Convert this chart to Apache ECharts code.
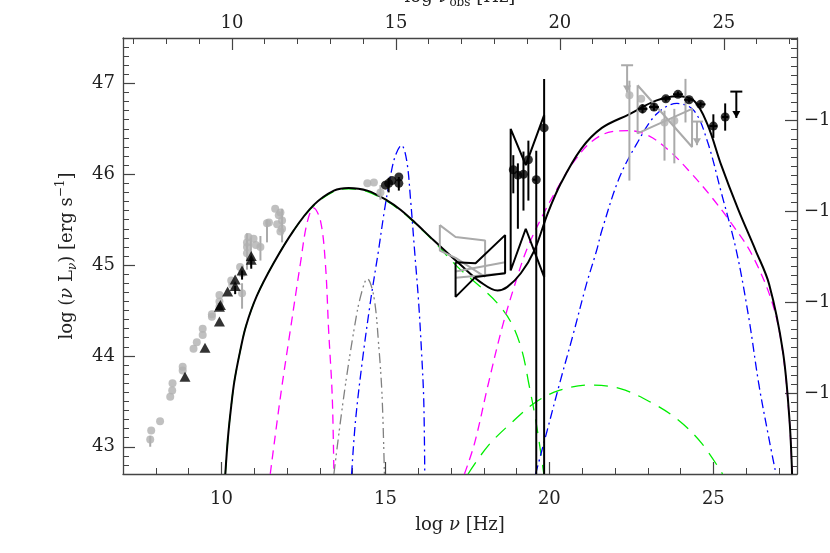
<!DOCTYPE html>
<html>
<head>
<meta charset="utf-8">
<script src="https://cdn.jsdelivr.net/npm/echarts@6/dist/echarts.min.js"></script>
<style>
  html, body { margin: 0; padding: 0; background: #fff; }
  #chart { width: 830px; height: 553px; }
</style>
</head>
<body>
<div id="chart"></div>
<script>
// axis ranges (log nu rest frame, log nuLnu)
const X_MIN = 7, X_MAX = 27.55;
const Y_MIN = 42.7, Y_MAX = 47.5;
const Z_SHIFT = 0.32;        // log(1+z), top axis = observed frame
const FLUX_SHIFT = 56.59;    // right axis offset
const xMajorTicks = [10, 15, 20, 25];
const yMajorTicks = [43, 44, 45, 46, 47];
const yRightTicks = [-13, -12, -11, -10];

// ---- model curves [log nu, log nuLnu] ----
const totalModel = [[10.12,42.7],[10.2,43.1],[10.3,43.45],[10.4,43.73],[10.57,44.05],[10.75,44.33],[11.08,44.66],[11.59,45.02],[12.2,45.38],[12.81,45.66],[13.43,45.82],[13.88,45.85],[14.45,45.82],[15.06,45.71],[15.46,45.61],[15.87,45.48],[16.48,45.27],[17.3,45.0],[17.91,44.81],[18.42,44.72],[18.72,44.76],[19.13,44.91],[19.54,45.16],[19.95,45.57],[20.35,45.9],[20.97,46.28],[21.6,46.51],[22.43,46.66],[23.25,46.81],[23.89,46.86],[24.41,46.81],[24.82,46.55],[25.24,46.1],[25.76,45.61],[26.29,45.16],[26.7,44.79],[27.12,44.05],[27.32,43.3],[27.4,42.7]];
const syncLow = [[10.12,42.7],[10.2,43.1],[10.3,43.45],[10.4,43.73],[10.57,44.05],[10.75,44.33],[11.08,44.66],[11.59,45.02],[12.2,45.38],[12.81,45.65],[13.43,45.81],[13.88,45.84],[14.45,45.81],[15.06,45.7],[15.46,45.6],[15.87,45.47],[16.48,45.26],[17.2,44.98],[17.93,44.75],[18.44,44.57],[18.86,44.35],[19.17,44.05],[19.38,43.68],[19.58,43.3],[19.74,42.93],[19.83,42.7]];
const sscLow = [[17.52,42.7],[18.13,43.01],[18.86,43.27],[19.58,43.49],[20.3,43.62],[21.23,43.68],[22.16,43.64],[23.09,43.49],[23.91,43.3],[24.64,43.04],[25.28,42.7]];
const syncHigh = [[11.49,42.7],[11.8,43.55],[12.1,44.28],[12.41,45.02],[12.61,45.46],[12.81,45.63],[13.02,45.49],[13.17,45.02],[13.27,44.28],[13.38,43.55],[13.43,42.7]];
const ecHigh = [[17.41,42.7],[17.72,43.04],[18.13,43.68],[18.55,44.3],[18.96,44.8],[19.32,45.18],[19.8,45.55],[20.3,45.88],[20.77,46.15],[21.29,46.36],[21.91,46.47],[22.43,46.48],[23.05,46.42],[23.68,46.25],[24.3,46.02],[24.92,45.76],[25.55,45.46],[26.17,45.12],[26.8,44.58],[27.12,44.03],[27.32,43.28],[27.4,42.7]];
const torus = [[13.43,42.7],[13.73,43.55],[14.04,44.28],[14.24,44.65],[14.45,44.85],[14.65,44.65],[14.8,44.1],[14.9,43.55],[14.97,42.7]];
const disk = [[13.97,42.7],[14.09,43.29],[14.3,43.95],[14.55,44.61],[14.79,45.16],[14.97,45.6],[15.16,45.99],[15.31,46.21],[15.49,46.32],[15.65,46.15],[15.77,45.71],[15.89,45.16],[16.01,44.61],[16.1,44.06],[16.17,43.51],[16.2,42.7]];
const ecDisk = [[19.58,42.7],[19.89,43.12],[20.3,43.68],[20.72,44.23],[21.13,44.79],[21.44,45.16],[21.6,45.38],[22.12,45.95],[22.64,46.32],[23.26,46.66],[23.89,46.78],[24.41,46.7],[24.82,46.36],[25.24,45.8],[25.7,45.16],[26.08,44.42],[26.39,43.68],[26.7,43.08],[26.91,42.7]];

// ---- data ----
const grayPoints = [[7.83,43.08],[7.86,43.18],[8.13,43.28],[8.44,43.55],[8.5,43.62],[8.51,43.7],[8.82,43.84],[8.82,43.88],[9.15,44.08],[9.25,44.15],[9.43,44.23],[9.43,44.3],[9.71,44.43],[9.71,44.46],[9.94,44.54],[9.94,44.6],[9.94,44.67],[10.3,44.83],[10.33,44.78],[10.57,44.98],[10.63,44.91],[10.63,44.69],[10.78,45.13],[10.78,45.2],[10.78,45.25],[10.82,45.31],[10.98,45.29],[11.05,45.22],[11.19,45.2],[11.39,45.46],[11.45,45.47],[11.64,45.62],[11.7,45.45],[11.75,45.55],[11.8,45.58],[11.85,45.49],[11.8,45.37],[11.85,45.4],[14.45,45.9],[14.65,45.91],[14.85,45.8],[22.44,46.87],[22.8,46.83],[23.51,46.57],[23.81,46.59]];
// [x, y, ylo, yhi, xlo, xhi]
const grayErrors = [[7.83,43.08,43.0,43.12,7.83,7.83],[10.63,44.69,44.52,44.8,10.63,10.63],[10.78,45.13,44.95,45.35,10.78,10.78],[10.9,45.15,44.98,45.3,10.9,10.9],[11.19,45.2,45.05,45.32,11.19,11.19],[11.39,45.4,45.25,45.5,11.39,11.39],[11.85,45.45,45.25,45.62,11.85,11.85],[14.85,45.8,45.72,45.88,14.85,14.85],[22.44,46.87,45.93,47.03,22.44,22.44],[23.51,46.57,46.15,46.7,23.51,23.51],[23.81,46.59,46.12,46.72,23.81,23.81],[24.15,46.8,46.57,47.05,24.15,24.15]];
const grayLimits = [[22.37,47.2,46.9],[24.5,46.58,46.32]];
const triangles = [[8.89,43.77],[9.5,44.09],[9.94,44.38],[9.94,44.54],[9.97,44.56],[10.19,44.71],[10.42,44.77],[10.42,44.84],[10.63,44.94],[10.91,45.06],[10.91,45.1]];
const triangleStems = [[10.42,44.77,44.68,44.77,10.42,10.42],[10.63,44.94,44.84,44.94,10.63,10.63],[10.91,45.06,44.96,45.06,10.91,10.91]];
const blackPoints = [[15.0,45.88],[15.1,45.9],[15.2,45.93],[15.41,45.97],[15.41,45.9],[18.9,46.05],[19.04,45.99],[19.21,46.0],[19.36,46.16],[19.6,45.94],[19.84,46.51],[22.84,46.72],[23.19,46.74],[23.55,46.83],[23.92,46.88],[24.26,46.82],[24.61,46.77],[25.0,46.53],[25.36,46.63]];
const blackErrors = [[15.1,45.9,45.8,45.96,15.1,15.1],[15.41,45.9,45.82,45.97,15.41,15.41],[18.9,46.05,45.79,46.21,18.9,18.9],[19.04,45.99,45.4,46.12,19.04,19.04],[19.21,46.0,45.6,46.25,19.21,19.21],[19.36,46.16,45.71,46.37,19.36,19.36],[19.6,45.94,42.7,46.26,19.5,19.6],[19.84,46.51,42.7,47.05,19.84,19.84],[22.84,46.72,46.67,46.77,22.69,22.99],[23.19,46.74,46.7,46.78,23.04,23.34],[23.55,46.83,46.8,46.86,23.4,23.7],[23.92,46.88,46.85,46.91,23.77,24.07],[24.26,46.82,46.79,46.85,24.11,24.41],[24.61,46.77,46.74,46.8,24.46,24.76],[25.0,46.53,46.4,46.66,24.88,25.12],[25.36,46.63,46.48,46.78,25.26,25.46]];
const blackLimits = [[25.7,46.91,46.62]];
// bowties (polylines)
const grayBowties = [
  [[16.66,45.44],[17.14,45.31],[18.04,45.27],[18.04,44.87]],
  [[16.66,45.44],[16.66,45.16],[17.14,45.08],[18.04,44.87]],
  [[17.14,44.93],[18.65,45.03]],
  [[17.14,44.86],[18.65,44.91]],
  [[22.69,46.98],[22.69,46.45],[24.35,46.72],[24.35,46.3],[22.69,46.98]]
];
const blackBowties = [
  [[17.14,45.03],[17.75,45.02],[18.65,45.33],[18.65,44.91],[17.75,44.87],[17.14,44.65],[17.14,45.03]],
  [[18.82,46.5],[19.28,46.1],[19.84,46.65],[19.84,44.87],[19.28,45.4],[18.82,44.94],[18.82,46.5]]
];

const FONT = 'DejaVu Serif';
const AXIS_COLOR = '#444';

function range(a, b, step) {
  const out = [];
  for (let v = a; v <= b + 1e-9; v += step) out.push(Math.round(v * 100) / 100);
  return out;
}

const chart = echarts.init(document.getElementById('chart'));

function errorRender(color, width) {
  return function (params, api) {
    const x = api.value(0), y = api.value(1);
    const a = api.coord([x, api.value(2)]), b = api.coord([x, api.value(3)]);
    const c = api.coord([api.value(4), y]), d = api.coord([api.value(5), y]);
    const st = {stroke: color, lineWidth: width};
    return {type: 'group', children: [
      {type: 'line', shape: {x1: a[0], y1: a[1], x2: b[0], y2: b[1]}, style: st},
      {type: 'line', shape: {x1: c[0], y1: c[1], x2: d[0], y2: d[1]}, style: st}
    ]};
  };
}

function limitRender(color, width) {
  return function (params, api) {
    const x = api.value(0);
    const top = api.coord([x, api.value(1)]), tip = api.coord([x, api.value(2)]);
    const st = {stroke: color, lineWidth: width};
    return {type: 'group', children: [
      {type: 'line', shape: {x1: top[0] - 6, y1: top[1], x2: top[0] + 6, y2: top[1]}, style: st},
      {type: 'line', shape: {x1: top[0], y1: top[1], x2: tip[0], y2: tip[1]}, style: st},
      {type: 'polygon', shape: {points: [[tip[0] - 4, tip[1] - 7], [tip[0] + 4, tip[1] - 7], [tip[0], tip[1]]]}, style: {fill: color}}
    ]};
  };
}

function curve(data, color, width, type, z) {
  return {type: 'line', data: data, showSymbol: false, smooth: 0.35,
    lineStyle: {color: color, width: width, type: type}, z: z, silent: true};
}

const series = [
  curve(syncLow, '#00ee00', 1.3, [14, 9], 2),
  curve(sscLow, '#00ee00', 1.3, [14, 9], 2),
  curve(syncHigh, '#ff00ff', 1.3, [9, 6], 2),
  curve(ecHigh, '#ff00ff', 1.3, [9, 6], 2),
  curve(torus, '#808080', 1.3, [10, 4, 2, 3, 2, 4], 2),
  curve(disk, '#0000ff', 1.3, [9, 4, 2, 4], 2),
  curve(ecDisk, '#0000ff', 1.3, [9, 4, 2, 4], 2),
  curve(totalModel, '#000', 2, 'solid', 3)
];
grayBowties.forEach(function (p) {
  series.push({type: 'line', data: p, showSymbol: false, lineStyle: {color: '#aaa', width: 2}, z: 4, silent: true});
});
blackBowties.forEach(function (p) {
  series.push({type: 'line', data: p, showSymbol: false, lineStyle: {color: '#000', width: 2}, z: 6, silent: true});
});
series.push(
  {type: 'custom', data: grayErrors, renderItem: errorRender('#aaa', 2), encode: {x: 0, y: 1}, clip: true, z: 4},
  {type: 'custom', data: grayLimits, renderItem: limitRender('#aaa', 2), encode: {x: 0, y: 1}, clip: true, z: 4},
  {type: 'scatter', data: grayPoints, symbol: 'circle', symbolSize: 8, itemStyle: {color: '#b0b0b0'}, z: 4},
  {type: 'custom', data: triangleStems, renderItem: errorRender('#000', 2), encode: {x: 0, y: 1}, clip: true, z: 6},
  {type: 'scatter', data: triangles, symbol: 'triangle', symbolSize: [11, 10], itemStyle: {color: '#000'}, z: 6},
  {type: 'custom', data: blackErrors, renderItem: errorRender('#000', 2), encode: {x: 0, y: 1}, clip: true, z: 6},
  {type: 'custom', data: blackLimits, renderItem: limitRender('#000', 2), encode: {x: 0, y: 1}, clip: true, z: 6},
  {type: 'scatter', data: blackPoints, symbol: 'circle', symbolSize: 9, itemStyle: {color: '#000'}, z: 6}
);

const labelStyle = {fontFamily: FONT, fontSize: 18, color: '#222'};
const nameStyle = {
  fontFamily: FONT, fontSize: 18, color: '#222', lineHeight: 24,
  rich: {
    i: {fontFamily: FONT, fontSize: 18, fontStyle: 'italic', color: '#222'},
    sub: {fontFamily: FONT, fontSize: 12, color: '#222', verticalAlign: 'bottom', lineHeight: 14},
    isub: {fontFamily: FONT, fontSize: 12, fontStyle: 'italic', color: '#222', verticalAlign: 'bottom', lineHeight: 14},
    sup: {fontFamily: FONT, fontSize: 12, color: '#222', verticalAlign: 'top', lineHeight: 14}
  }
};

function axisPair(dim, pos, min, max, majors, minors, label, extra) {
  const main = Object.assign({
    type: 'value', position: pos, min: min, max: max, gridIndex: 0,
    axisLine: {show: true, lineStyle: {color: AXIS_COLOR, width: 1.3}},
    axisTick: {show: true, inside: true, length: 12, customValues: majors, lineStyle: {color: AXIS_COLOR, width: 1.2}},
    axisLabel: Object.assign({show: true, customValues: majors}, labelStyle, label),
    splitLine: {show: false}
  }, extra);
  const minor = {
    type: 'value', position: pos, min: min, max: max, gridIndex: 0,
    axisLine: {show: false},
    axisTick: {show: true, inside: true, length: 6, customValues: minors, lineStyle: {color: AXIS_COLOR, width: 1}},
    axisLabel: {show: false},
    splitLine: {show: false}
  };
  return [main, minor];
}

const xAxes = [].concat(
  axisPair('x', 'bottom', X_MIN, X_MAX, xMajorTicks, range(8, 27, 1), {margin: 16},
    {name: 'log {i|ν} [Hz]', nameLocation: 'middle', nameGap: 37, nameTextStyle: nameStyle}),
  axisPair('x', 'top', X_MIN - Z_SHIFT, X_MAX - Z_SHIFT, xMajorTicks, range(7, 27, 1), {margin: 6},
    {name: 'log {i|ν}{sub|obs} [Hz]', nameLocation: 'middle', nameGap: 19, nameTextStyle: nameStyle})
);
const yAxes = [].concat(
  axisPair('y', 'left', Y_MIN, Y_MAX, yMajorTicks, range(42.7, 47.5, 0.1), {margin: 8},
    {name: 'log ({i|ν} L{isub|ν}) [erg s{sup|−1}]', nameLocation: 'middle', nameGap: 44, nameRotate: 90, nameTextStyle: nameStyle}),
  axisPair('y', 'right', Y_MIN - FLUX_SHIFT, Y_MAX - FLUX_SHIFT, yRightTicks,
    range(-13.8, -9.1, 0.1), {margin: 7, formatter: function (v) { return '−' + Math.abs(v); }}, {})
);

const option = {
  backgroundColor: '#fff',
  animation: false,
  grid: {left: 123, right: 33, top: 38, bottom: 79, outerBoundsMode: 'none', containLabel: false},
  xAxis: xAxes,
  yAxis: yAxes,
  series: series
};

chart.setOption(option);
</script>
</body>
</html>
